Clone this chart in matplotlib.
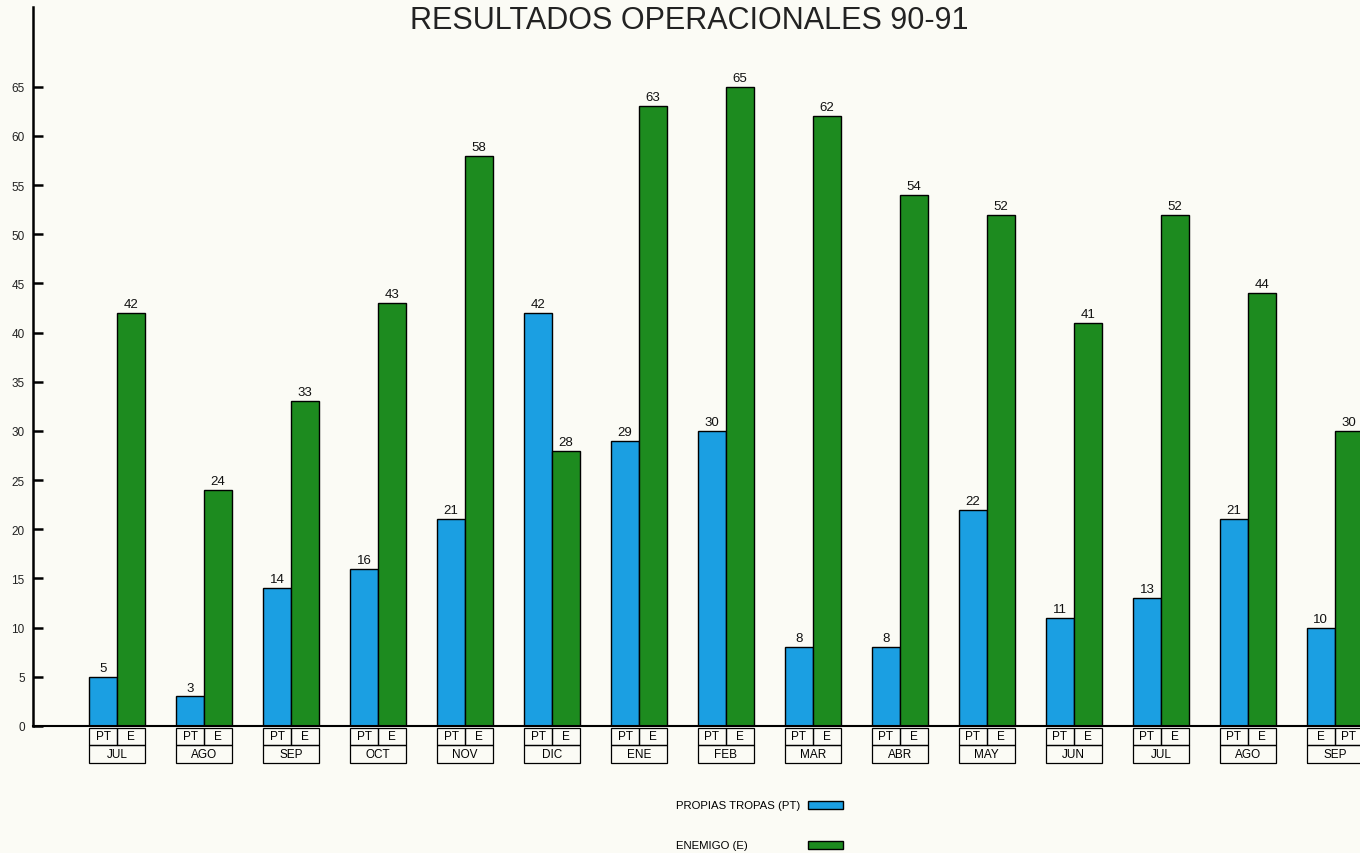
"""
Resultados operacionales 90-91
Paired bars: own troops (PT) vs enemy (E) per month.
"""

import numpy as np
import matplotlib.pyplot as plt
from matplotlib.patches import Rectangle


# ============================================================
# Data
# ============================================================

months = ["JUL", "AGO", "SEP", "OCT", "NOV", "DIC", "ENE", "FEB",
          "MAR", "ABR", "MAY", "JUN", "JUL", "AGO", "SEP"]
pt_values = [5, 3, 14, 16, 21, 42, 29, 30, 8, 8, 22, 11, 13, 21, 10]
e_values = [42, 24, 33, 43, 58, 28, 63, 65, 62, 54, 52, 41, 52, 44, 30]

# the last pair is printed the other way round in the original
pair_labels = [("PT", "E")] * 14 + [("E", "PT")]

y_ticks = list(range(0, 70, 5))

BLUE = "#1b9fe2"
GREEN = "#1d8b1f"
BG = "#fbfbf5"

plt.rcParams["font.family"] = ["Liberation Sans", "DejaVu Sans"]


# ============================================================
# Plot
# ============================================================

def make_chart():

    W, H = 1360, 854
    fig = plt.figure(figsize=(W / 100, H / 100), dpi=100, facecolor=BG)
    ax = fig.add_axes([33 / W, 127 / H, 1 - 33 / W, 719 / H])
    ax.set_facecolor(BG)

    x = np.arange(len(months))
    w = 0.32

    ax.bar(x - w / 2, pt_values, w, color=BLUE, edgecolor="black", linewidth=1)
    ax.bar(x + w / 2, e_values, w, color=GREEN, edgecolor="black", linewidth=1)

    # value labels
    for xi, v in zip(x, pt_values):
        ax.text(xi - w / 2, v + 0.3, str(v), ha="center", va="bottom",
                fontsize=9.5, color="#111111")
    for xi, v in zip(x, e_values):
        ax.text(xi + w / 2, v + 0.3, str(v), ha="center", va="bottom",
                fontsize=9.5, color="#111111")

    # label boxes under the axis
    for xi, m, (l1, l2) in zip(x, months, pair_labels):
        for x0, lab in ((xi - w, l1), (xi, l2)):
            ax.add_patch(Rectangle((x0, -1.9), w, 1.7, fill=False,
                                   edgecolor="black", linewidth=0.9,
                                   clip_on=False))
            ax.text(x0 + w / 2, -1.05, lab, ha="center", va="center",
                    fontsize=8.5, clip_on=False)
        ax.add_patch(Rectangle((xi - w, -3.8), 2 * w, 1.9, fill=False,
                               edgecolor="black", linewidth=0.9,
                               clip_on=False))
        ax.text(xi, -2.85, m, ha="center", va="center", fontsize=8.5,
                clip_on=False)

    ax.set_xlim(-0.966, 14.29)
    ax.set_ylim(0, 73.1)
    ax.set_xticks([])
    ax.set_yticks(y_ticks)
    ax.tick_params(axis="y", direction="in", length=7, width=1.8,
                   labelsize=8.5, pad=6, labelcolor="#222222")

    for side in ("top", "right"):
        ax.spines[side].set_visible(False)
    ax.spines["left"].set_linewidth(1.8)
    ax.spines["bottom"].set_linewidth(1.5)

    # title
    fig.text(0.507, 1 - 21 / H, "RESULTADOS OPERACIONALES 90-91",
             ha="center", va="center", fontsize=22, color="#222222")

    # legend
    legend_items = [("PROPIAS TROPAS (PT)", BLUE, 806),
                    ("ENEMIGO (E)", GREEN, 846)]
    for text, color, yp in legend_items:
        fig.text(676 / W, 1 - yp / H, text, ha="left", va="center",
                 fontsize=8.2)
        fig.add_artist(Rectangle((808 / W, 1 - (yp + 4) / H), 35 / W, 8 / H,
                                 transform=fig.transFigure, facecolor=color,
                                 edgecolor="black", linewidth=1))

    fig.savefig("out.png", dpi=100, facecolor=BG)


# ============================================================
# Main
# ============================================================

if __name__ == "__main__":
    make_chart()
